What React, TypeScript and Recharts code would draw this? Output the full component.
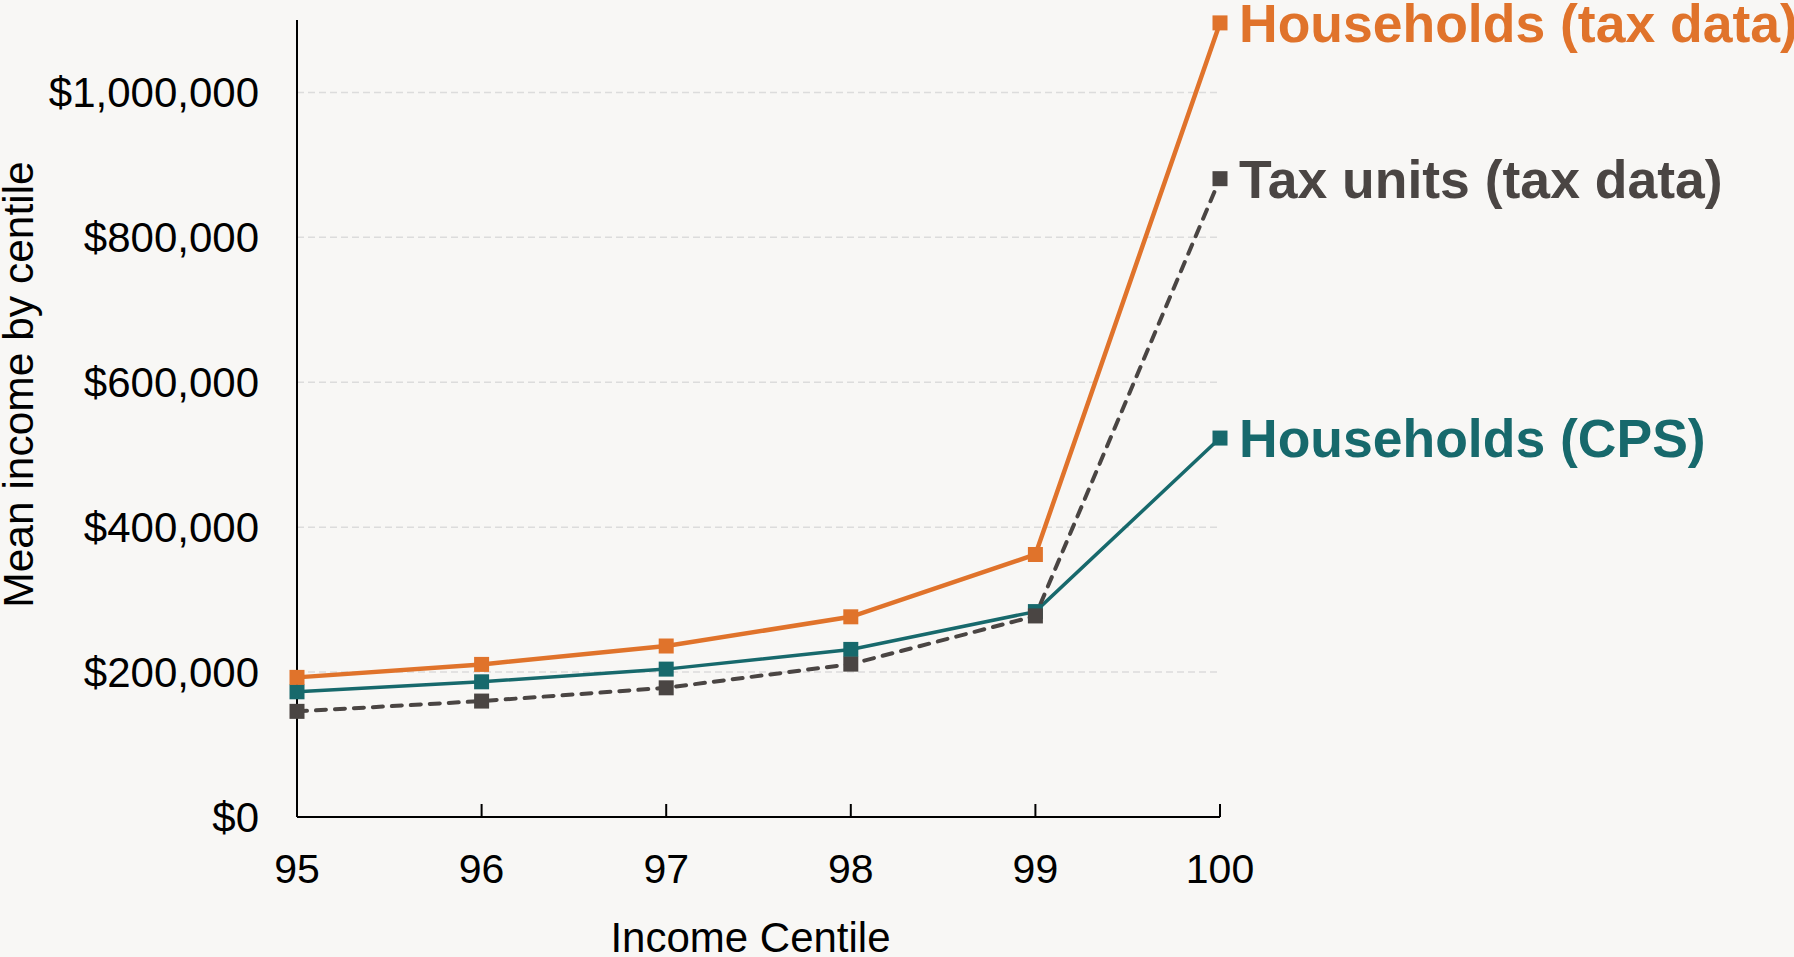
import React from 'react';
import { LineChart, Line, XAxis, YAxis, CartesianGrid, Label } from 'recharts';

const centiles = [95, 96, 97, 98, 99, 100];
const householdsTax = [192700, 210600, 236000, 276300, 362300, 1096000];
const householdsCps = [172800, 186600, 204100, 231300, 283500, 523000];
const taxUnits = [145800, 160000, 178300, 211000, 277500, 881000];
const yTicks = [0, 200000, 400000, 600000, 800000, 1000000];
const gridValues = [200000, 400000, 600000, 800000, 1000000];
const xTicks = [95, 96, 97, 98, 99, 100];

const seriesNames = {
  householdsTax: 'Households (tax data)',
  taxUnits: 'Tax units (tax data)',
  householdsCps: 'Households (CPS)',
};

const data = centiles.map((c, i) => ({
  centile: c,
  householdsTax: householdsTax[i],
  householdsCps: householdsCps[i],
  taxUnits: taxUnits[i],
}));

const ORANGE = '#E0732B';
const TEAL = '#17696C';
const DARK = '#4A4543';
const FONT = '"Liberation Sans", Arial, Helvetica, sans-serif';

const squareDot = (color: string) => (props: any) => {
  const { cx, cy, index } = props;
  if (cx == null || cy == null) return <g key={`d-${index}`} />;
  return <rect key={`d-${index}`} x={cx - 7.5} y={cy - 7.5} width={15} height={15} fill={color} />;
};

const endLabel = (color: string, text: string) => (props: any) => {
  const { x, y, index } = props;
  if (index !== centiles.length - 1 || x == null || y == null) return null;
  return (
    <text
      x={x + 19}
      y={y + 19}
      fill={color}
      fontFamily={FONT}
      fontWeight={700}
      fontSize={53.5}
    >
      {text}
    </text>
  );
};

const fmtDollar = (v: number) => '$' + v.toLocaleString('en-US');

export default function App() {
  return (
    <div
      style={{
        position: 'fixed',
        left: 0,
        top: 0,
        width: 1794,
        height: 957,
        background: '#F8F7F5',
        overflow: 'hidden',
      }}
    >
      <LineChart
        width={1794}
        height={957}
        data={data}
        margin={{ top: 20, right: 574, bottom: 0, left: 0 }}
      >
        <CartesianGrid
          vertical={false}
          horizontalValues={gridValues}
          stroke="#DCDCDC"
          strokeDasharray="7 4"
          strokeWidth={1.5}
        />
        <XAxis
          dataKey="centile"
          type="number"
          domain={[95, 100]}
          ticks={xTicks}
          height={140}
          axisLine={{ stroke: '#000', strokeWidth: 2 }}
          tickLine={{ stroke: '#000', strokeWidth: 2 }}
          tickSize={-13}
          tickMargin={50}
          tick={{ fill: '#000', fontSize: 41, fontFamily: FONT }}
          interval={0}
        >
          <Label
            content={(p: any) => {
              const vb = p.viewBox || {};
              return (
                <text
                  x={vb.x + vb.width / 2 - 8}
                  y={952}
                  textAnchor="middle"
                  fill="#000"
                  fontFamily={FONT}
                  fontSize={42}
                >
                  Income Centile
                </text>
              );
            }}
          />
        </XAxis>
        <YAxis
          type="number"
          domain={[0, 1100000]}
          ticks={yTicks}
          width={297}
          axisLine={{ stroke: '#000', strokeWidth: 2 }}
          tickLine={false}
          tickSize={0}
          tickMargin={38}
          tickFormatter={fmtDollar}
          tick={{ fill: '#000', fontSize: 42, fontFamily: FONT }}
          interval={0}
        >
          <Label
            content={(p: any) => {
              const vb = p.viewBox || {};
              const cx = 32.5;
              const cy = vb.y + vb.height / 2 - 34;
              return (
                <text
                  x={cx}
                  y={cy}
                  transform={`rotate(-90, ${cx}, ${cy})`}
                  textAnchor="middle"
                  fill="#000"
                  fontFamily={FONT}
                  fontSize={42.5}
                >
                  Mean income by centile
                </text>
              );
            }}
          />
        </YAxis>
        <Line
          dataKey="householdsCps"
          stroke={TEAL}
          strokeWidth={3.5}
          dot={squareDot(TEAL)}
          activeDot={false}
          isAnimationActive={false}
          label={endLabel(TEAL, seriesNames.householdsCps)}
        />
        <Line
          dataKey="taxUnits"
          stroke={DARK}
          strokeWidth={4}
          strokeDasharray="10 9"
          strokeLinecap="round"
          dot={squareDot(DARK)}
          activeDot={false}
          isAnimationActive={false}
          label={endLabel(DARK, seriesNames.taxUnits)}
        />
        <Line
          dataKey="householdsTax"
          stroke={ORANGE}
          strokeWidth={4.5}
          dot={squareDot(ORANGE)}
          activeDot={false}
          isAnimationActive={false}
          label={endLabel(ORANGE, seriesNames.householdsTax)}
        />
      </LineChart>
    </div>
  );
}
